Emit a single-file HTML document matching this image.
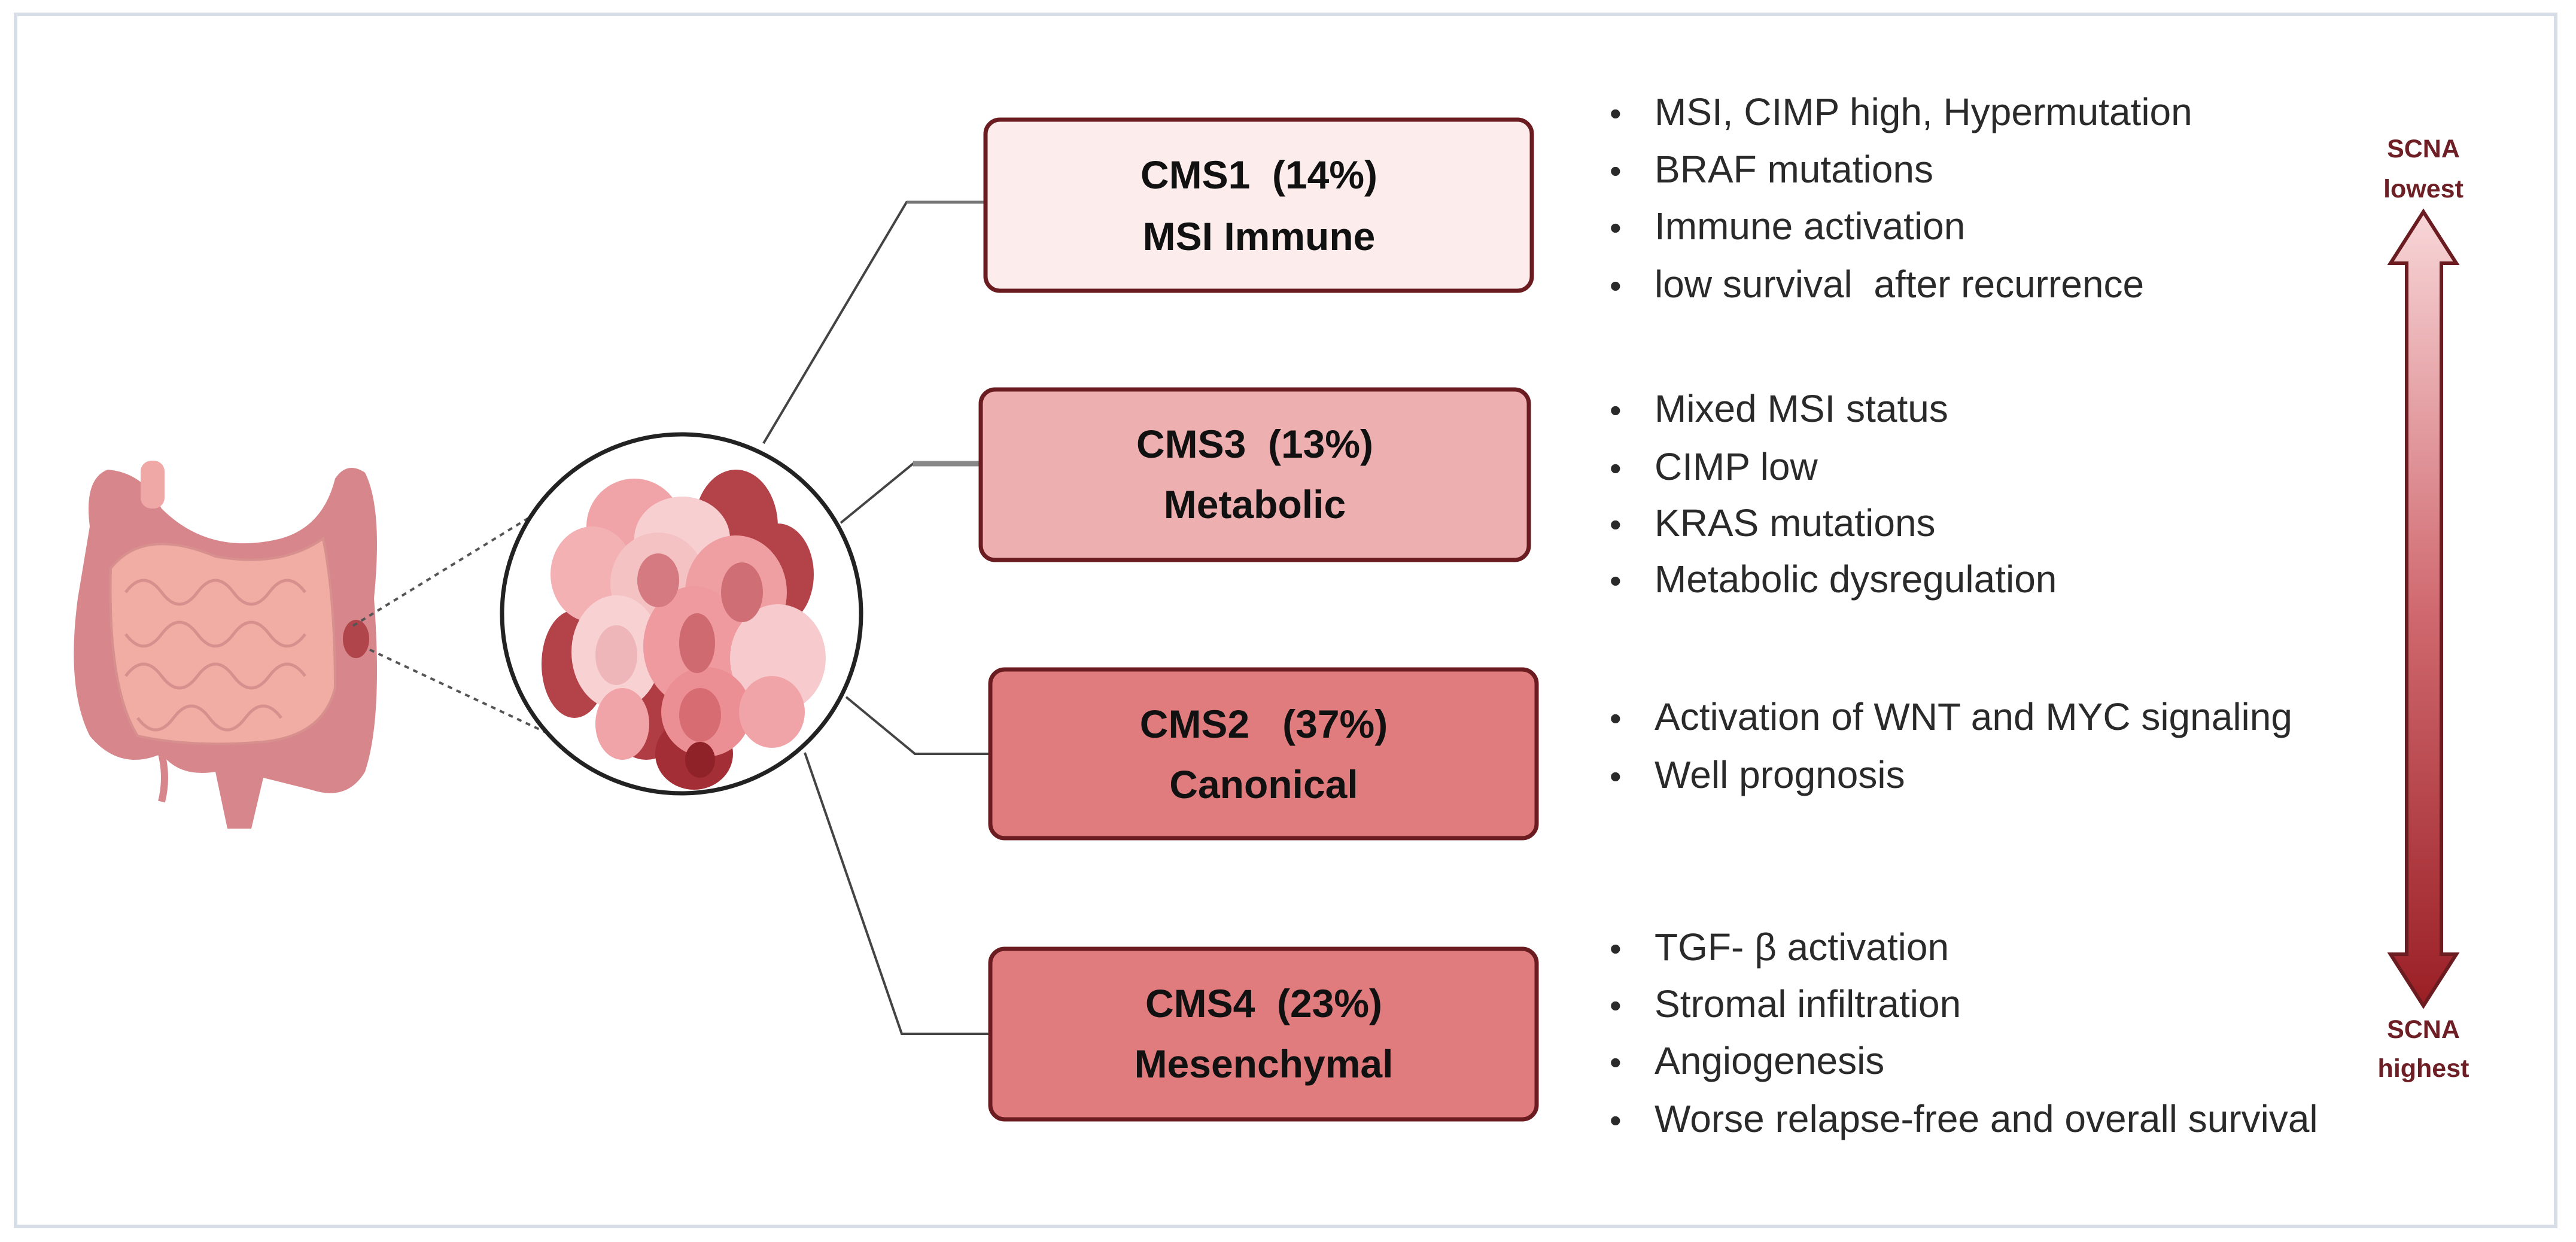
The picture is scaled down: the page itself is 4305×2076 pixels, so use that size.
<!DOCTYPE html>
<html><head><meta charset="utf-8"><style>
html,body{margin:0;padding:0;background:#fff;}
svg{display:block;}
text{font-family:"Liberation Sans",sans-serif;}
</style></head><body>
<svg width="4305" height="2076" viewBox="0 0 4305 2076" xmlns="http://www.w3.org/2000/svg">
<defs>
<linearGradient id="ag" x1="0" y1="0" x2="0" y2="1">
<stop offset="0" stop-color="#f8d6d8"/><stop offset="0.5" stop-color="#d06a70"/><stop offset="1" stop-color="#9a1f25"/>
</linearGradient>
</defs>
<rect x="0" y="0" width="4305" height="2076" fill="#fff"/>
<rect x="26" y="24" width="4245" height="2026" fill="none" stroke="#d7dde6" stroke-width="6"/>

<!-- colon -->
<g>
<path d="M150 880 Q140 800 180 785 Q240 790 270 850 Q350 930 470 900 Q540 880 560 800 Q580 770 610 790 Q640 850 625 1000 Q640 1200 610 1290 Q580 1340 520 1320 L440 1300 L420 1385 L380 1385 L360 1290 Q300 1300 270 1260 Q200 1290 150 1230 Q110 1150 130 1000 Z" fill="#d7878c"/>
<rect x="235" y="770" width="40" height="80" rx="18" fill="#f0a8a6"/>
<path d="M185 950 Q240 880 360 930 Q470 950 540 900 Q560 1000 560 1150 Q540 1230 440 1240 Q320 1250 230 1230 Q180 1150 185 950 Z" fill="#f1aca4" stroke="#d8908e" stroke-width="4"/>
<g fill="none" stroke="#d8908e" stroke-width="5">
<path d="M210 990 q30 -40 60 0 t60 0 t60 0 t60 0 t60 0"/>
<path d="M210 1060 q30 40 60 0 t60 0 t60 0 t60 0 t60 0"/>
<path d="M210 1130 q30 -40 60 0 t60 0 t60 0 t60 0 t60 0"/>
<path d="M230 1200 q30 40 60 0 t60 0 t60 0 t60 0"/>
</g>
<path d="M270 1260 Q280 1300 270 1340" stroke="#d7878c" stroke-width="12" fill="none"/>
<ellipse cx="595" cy="1068" rx="22" ry="32" fill="#b0454b"/>
</g>
<!-- dotted lines -->
<line x1="590" y1="1046" x2="914" y2="847" stroke="#555" stroke-width="4" stroke-dasharray="8,8"/>
<line x1="618" y1="1086" x2="914" y2="1225" stroke="#555" stroke-width="4" stroke-dasharray="8,8"/>

<!-- cells -->
<circle cx="1139" cy="1026" r="300" fill="#fff" stroke="#222" stroke-width="7"/>
<g>
<ellipse cx="1230" cy="880" rx="70" ry="95" fill="#b34249"/>
<ellipse cx="1300" cy="960" rx="60" ry="85" fill="#b34249"/>
<ellipse cx="960" cy="1110" rx="55" ry="90" fill="#b34249"/>
<ellipse cx="1080" cy="1180" rx="70" ry="90" fill="#b03c44"/>
<ellipse cx="1160" cy="1260" rx="65" ry="60" fill="#a32e36"/>
<ellipse cx="1060" cy="880" rx="80" ry="80" fill="#f0a4a8"/>
<ellipse cx="1140" cy="900" rx="80" ry="70" fill="#f8cfd1"/>
<ellipse cx="990" cy="960" rx="70" ry="80" fill="#f3b1b4"/>
<ellipse cx="1100" cy="975" rx="80" ry="85" fill="#f5c2c4"/>
<ellipse cx="1230" cy="990" rx="85" ry="95" fill="#ef9ea2"/>
<ellipse cx="1030" cy="1090" rx="75" ry="95" fill="#f8d1d3"/>
<ellipse cx="1160" cy="1080" rx="85" ry="100" fill="#ee9a9e"/>
<ellipse cx="1300" cy="1100" rx="80" ry="90" fill="#f7cbcd"/>
<ellipse cx="1180" cy="1190" rx="75" ry="75" fill="#eb8f94"/>
<ellipse cx="1290" cy="1190" rx="55" ry="60" fill="#f0a4a8"/>
<ellipse cx="1040" cy="1210" rx="45" ry="60" fill="#f0a4a8"/>
<ellipse cx="1100" cy="970" rx="35" ry="45" fill="#d57a80"/>
<ellipse cx="1240" cy="990" rx="35" ry="50" fill="#d06e75"/>
<ellipse cx="1165" cy="1075" rx="30" ry="50" fill="#cf6a71"/>
<ellipse cx="1030" cy="1095" rx="35" ry="50" fill="#eeb6b8"/>
<ellipse cx="1170" cy="1195" rx="35" ry="45" fill="#d86c73"/>
<ellipse cx="1170" cy="1270" rx="25" ry="30" fill="#8f2228"/>
</g>

<!-- connectors -->
<g fill="none" stroke="#444" stroke-width="4">
<polyline points="1276,741 1515,338 1647,338"/>
<polyline points="1405,874 1526,775 1639,775" />
<polyline points="1414,1165 1529,1260 1655,1260"/>
<polyline points="1345,1258 1507,1728 1655,1728"/>
</g>
<line x1="1526" y1="775" x2="1639" y2="775" stroke="#888" stroke-width="9"/>
<line x1="1515" y1="338" x2="1647" y2="338" stroke="#777" stroke-width="5"/>

<!-- boxes -->
<g stroke="#6b1c20" stroke-width="7">
<rect x="1647" y="200" width="913" height="286" rx="24" fill="#fcecec"/>
<rect x="1639" y="651" width="916" height="285" rx="24" fill="#eeafb1"/>
<rect x="1655" y="1119" width="913" height="282" rx="24" fill="#e07c7e"/>
<rect x="1655" y="1586" width="913" height="285" rx="24" fill="#e07c7e"/>
</g>
<g font-weight="bold" font-size="66" fill="#111" text-anchor="middle">
<text x="2104" y="315" xml:space="preserve">CMS1  (14%)</text>
<text x="2104" y="418">MSI Immune</text>
<text x="2097" y="765" xml:space="preserve">CMS3  (13%)</text>
<text x="2097" y="866">Metabolic</text>
<text x="2112" y="1233" xml:space="preserve">CMS2   (37%)</text>
<text x="2112" y="1334">Canonical</text>
<text x="2112" y="1700" xml:space="preserve">CMS4  (23%)</text>
<text x="2112" y="1801">Mesenchymal</text>
</g>

<!-- bullets -->
<g font-size="64" fill="#2a2a2a">
<g font-size="56"><text x="2690" y="209">•</text><text x="2690" y="305">•</text><text x="2690" y="400">•</text><text x="2690" y="497">•</text>
<text x="2690" y="705">•</text><text x="2690" y="802">•</text><text x="2690" y="896">•</text><text x="2690" y="990">•</text>
<text x="2690" y="1220">•</text><text x="2690" y="1317">•</text>
<text x="2690" y="1605">•</text><text x="2690" y="1700">•</text><text x="2690" y="1795">•</text><text x="2690" y="1892">•</text></g>
<text x="2765" y="209">MSI, CIMP high, Hypermutation</text>
<text x="2765" y="305">BRAF mutations</text>
<text x="2765" y="400">Immune activation</text>
<text x="2765" y="497" xml:space="preserve">low survival  after recurrence</text>
<text x="2765" y="705">Mixed MSI status</text>
<text x="2765" y="802">CIMP low</text>
<text x="2765" y="896">KRAS mutations</text>
<text x="2765" y="990">Metabolic dysregulation</text>
<text x="2765" y="1220">Activation of WNT and MYC signaling</text>
<text x="2765" y="1317">Well prognosis</text>
<text x="2765" y="1605">TGF- β activation</text>
<text x="2765" y="1700">Stromal infiltration</text>
<text x="2765" y="1795">Angiogenesis</text>
<text x="2765" y="1892">Worse relapse-free and overall survival</text>
</g>

<!-- arrow -->
<path d="M4050 354 L4105 440 L4080 440 L4080 1595 L4105 1595 L4050 1681 L3995 1595 L4022 1595 L4022 440 L3995 440 Z" fill="url(#ag)" stroke="#6b1c20" stroke-width="6" stroke-linejoin="miter"/>
<g font-weight="bold" font-size="43" fill="#6e1f25" text-anchor="middle">
<text x="4050" y="263">SCNA</text>
<text x="4050" y="330">lowest</text>
<text x="4050" y="1735">SCNA</text>
<text x="4050" y="1800">highest</text>
</g>
</svg>
</body></html>
